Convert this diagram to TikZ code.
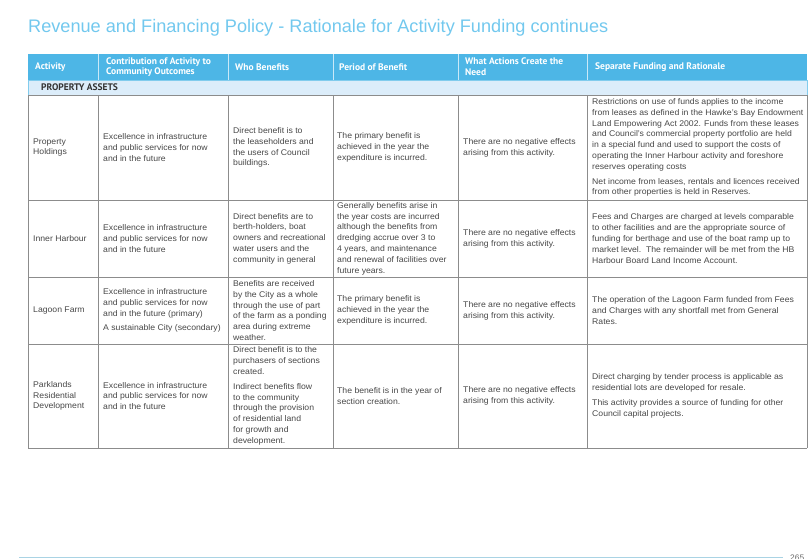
\documentclass[tikz,border=0pt]{standalone}
\usepackage{fontspec}
\setmainfont{Liberation Sans}[FakeStretch=1.05]
\newfontfamily\titlefont{Liberation Sans}
\newfontfamily\hdfont{PT Sans}
\definecolor{hdblue}{HTML}{4DB6E6}
\definecolor{secblue}{HTML}{DCEDFA}
\definecolor{titleblue}{HTML}{72C8EE}
\definecolor{txt}{HTML}{474747}
\definecolor{gridc}{HTML}{8C8C8C}
\definecolor{footc}{HTML}{A9D3E4}
\begin{document}
\begin{tikzpicture}[x=1pt,y=-1pt,
  cell/.style={anchor=west, inner sep=0pt, align=left, font=\fontsize{8.25}{10.8}\selectfont, text=txt},
  hd/.style={anchor=west, inner sep=0pt, align=left, font=\hdfont\bfseries\fontsize{9.5}{10.8}\selectfont, text=white},
  gridline/.style={draw=gridc, line width=0.7pt},
  hdline/.style={draw=white!70!hdblue, line width=0.6pt},
]
\useasboundingbox (0,0) rectangle (810,558);
% title
\node[anchor=base west, inner sep=0pt, text=titleblue, font=\titlefont\fontsize{18.15}{20}\selectfont] (title) at (28,32) {Revenue and Financing Policy - Rationale for Activity Funding continues};
% header and section backgrounds
\fill[hdblue] (28,54) rectangle (807,80);
\fill[secblue] (28,80) rectangle (807,95);
\draw[draw=hdblue!70!white, line width=0.6pt] (28,80) rectangle (807,95);
\foreach \x in {98,228,333,458,587} {\draw[hdline] (\x,54) -- (\x,80);}
% grid
\foreach \x in {28,98,228,333,458,587,807} {\draw[gridline] (\x,95) -- (\x,448);}
\foreach \y in {95,200,277,344,448} {\draw[gridline] (28,\y) -- (807,\y);}
% header texts
\node[hd] (h1) at (35,67) {Activity};
\node[hd] (h2) at (106,67) {Contribution of Activity to\\Community Outcomes};
\node[hd] (h3) at (235,67) {Who Benefits};
\node[hd] (h4) at (339,67) {Period of Benefit};
\node[hd] (h5) at (465,67) {What Actions Create the\\Need};
\node[hd] (h6) at (595,67) {Separate Funding and Rationale};
\node[hd, text=black!80] (sec) at (41,87.5) {PROPERTY ASSETS};
% row 1
\node[cell] (a1) at (33,147.5) {Property\\Holdings};
\node[cell] (b1) at (103,147.5) {Excellence in infrastructure\\and public services for now\\and in the future};
\node[cell] (c1) at (233,147.5) {Direct benefit is to\\the leaseholders and\\the users of Council\\buildings.};
\node[cell] (d1) at (337,147.5) {The primary benefit is\\achieved in the year the\\expenditure is incurred.};
\node[cell] (e1) at (463,147.5) {There are no negative effects\\arising from this activity.};
\node[cell] (f1) at (592,147.5) {Restrictions on use of funds applies to the income\\from leases as defined in the Hawke's Bay Endowment\\Land Empowering Act 2002. Funds from these leases\\and Council's commercial property portfolio are held\\in a special fund and used to support the costs of\\operating the Inner Harbour activity and foreshore\\reserves operating costs\\[4pt]Net income from leases, rentals and licences received\\from other properties is held in Reserves.};
% row 2
\node[cell] (a2) at (33,238.5) {Inner Harbour};
\node[cell] (b2) at (103,238.5) {Excellence in infrastructure\\and public services for now\\and in the future};
\node[cell] (c2) at (233,238.5) {Direct benefits are to\\berth-holders, boat\\owners and recreational\\water users and the\\community in general};
\node[cell] (d2) at (337,238.5) {Generally benefits arise in\\the year costs are incurred\\although the benefits from\\dredging accrue over 3 to\\4 years, and maintenance\\and renewal of facilities over\\future years.};
\node[cell] (e2) at (463,238.5) {There are no negative effects\\arising from this activity.};
\node[cell] (f2) at (592,238.5) {Fees and Charges are charged at levels comparable\\to other facilities and are the appropriate source of\\funding for berthage and use of the boat ramp up to\\market level.\ \ The remainder will be met from the HB\\Harbour Board Land Income Account.};
% row 3
\node[cell] (a3) at (33,310.5) {Lagoon Farm};
\node[cell] (b3) at (103,310.5) {Excellence in infrastructure\\and public services for now\\and in the future (primary)\\[4pt]A sustainable City (secondary)};
\node[cell] (c3) at (233,310.5) {Benefits are received\\by the City as a whole\\through the use of part\\of the farm as a ponding\\area during extreme\\weather.};
\node[cell] (d3) at (337,310.5) {The primary benefit is\\achieved in the year the\\expenditure is incurred.};
\node[cell] (e3) at (463,310.5) {There are no negative effects\\arising from this activity.};
\node[cell] (f3) at (592,310.5) {The operation of the Lagoon Farm funded from Fees\\and Charges with any shortfall met from General\\Rates.};
% row 4
\node[cell] (a4) at (33,396) {Parklands\\Residential\\Development};
\node[cell] (b4) at (103,396) {Excellence in infrastructure\\and public services for now\\and in the future};
\node[cell] (c4) at (233,396) {Direct benefit is to the\\purchasers of sections\\created.\\[4pt]Indirect benefits flow\\to the community\\through the provision\\of residential land\\for growth and\\development.};
\node[cell] (d4) at (337,396) {The benefit is in the year of\\section creation.};
\node[cell] (e4) at (463,396) {There are no negative effects\\arising from this activity.};
\node[cell] (f4) at (592,396) {Direct charging by tender process is applicable as\\residential lots are developed for resale.\\[4pt]This activity provides a source of funding for other\\Council capital projects.};
% footer
\coordinate (fl) at (19,557);
\coordinate (fr) at (783,557);
\draw[draw=footc, line width=1pt] (fl) -- (fr);
\begin{scope}
\clip (0,0) rectangle (810,558);
\node[anchor=north west, inner sep=0pt, text=txt!80, font=\fontsize{8}{9}\selectfont] (pg) at (790,554.5) {265};
\end{scope}
\end{tikzpicture}
\end{document}
